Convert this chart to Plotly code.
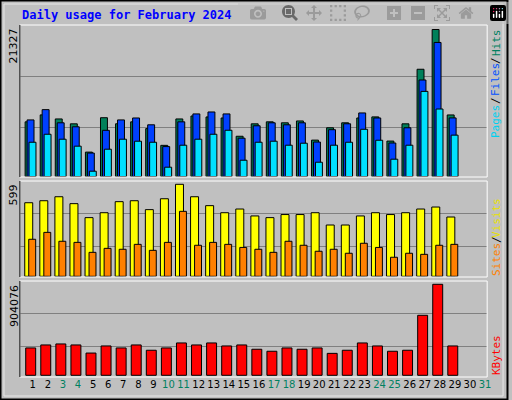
import plotly.graph_objects as go

days = list(range(1, 32))
weekend = [3, 4, 10, 11, 17, 18, 24, 25, 31]

# daily values (February 2024, days 1-29)
hits = [7930, 8940, 8350, 7640, 3540, 8530, 7650, 7930, 6950, 4520, 8350, 8780, 8640, 8490,
        5840, 7640, 7930, 7790, 8060, 5280, 7070, 7790, 8490, 8650, 5140, 7640, 15560, 21327, 8930]
files = [8210, 9700, 7790, 7210, 3400, 6700, 8210, 8490, 7500, 4340, 7930, 9080, 9360, 9080,
         5560, 7360, 7790, 7500, 7790, 5000, 6790, 7650, 9220, 8490, 4860, 7070, 14000, 19450, 8500]
pages = [4970, 6130, 5410, 4400, 770, 3960, 5410, 5120, 4970, 1350, 4540, 5410, 6130, 6710,
         2360, 4970, 5120, 4540, 4830, 2070, 4540, 4970, 6850, 5260, 2510, 4540, 12350, 9790, 6000]
visits = [479, 492, 518, 473, 382, 414, 486, 492, 434, 505, 599, 518, 460, 414,
          438, 393, 382, 402, 402, 414, 334, 334, 393, 414, 402, 414, 438, 451, 386]
sites = [241, 286, 228, 221, 156, 182, 176, 208, 169, 221, 423, 202, 221, 208,
         188, 176, 156, 228, 202, 163, 176, 150, 215, 188, 124, 150, 143, 202, 208]
kbytes = [271720, 301530, 311460, 301530, 221040, 291600, 271720, 301530, 248770, 271720,
          321400, 301530, 321400, 291600, 301530, 258700, 238800, 271720, 258700, 271720,
          218000, 248770, 321400, 291600, 238800, 248770, 596000, 904076, 291600]

n = len(hits)
d = list(range(1, n + 1))
grey = "#c0c0c0"

fig = go.Figure()

def bars(vals, off, w, color, ax):
    fig.add_trace(go.Bar(x=[v + off for v in d], y=vals, width=w, marker_color=color,
                         marker_line_color="black", marker_line_width=1,
                         xaxis="x", yaxis=ax, showlegend=False, hoverinfo="y"))

bars(hits, 0.08, 0.46, "#00805a", "y")
bars(files, 0.21, 0.46, "#0040ff", "y")
bars(pages, 0.34, 0.46, "#00e0ff", "y")
bars(visits, 0.09, 0.53, "#ffff00", "y2")
bars(sites, 0.32, 0.46, "#ff8000", "y2")
bars(kbytes, 0.22, 0.66, "#ff0000", "y3")

def yrange(vmax, base_px, top_px, y0, y1):
    per = vmax / (base_px - top_px)
    return [-(y1 - base_px) * per, (base_px - y0) * per], per

r1, p1 = yrange(21327, 176.5, 29.5, 25, 177)
r2, p2 = yrange(599, 276.3, 184.3, 181, 277)
r3, p3 = yrange(904076, 375.3, 284.3, 281, 377)

ticktext = []
for dd in days:
    c = "#008060" if dd in weekend else "#000000"
    ticktext.append(f"<span style='color:{c}'>{dd}</span>")

fig.update_layout(
    width=512, height=400, margin=dict(l=0, r=0, t=0, b=0),
    paper_bgcolor=grey, plot_bgcolor=grey, barmode="overlay",
    font=dict(family="DejaVu Sans", size=11, color="black"),
    xaxis=dict(domain=[20 / 512, 491 / 512], range=[0.5, 31.5], anchor="y3",
               tickvals=[v + 0.36 for v in days], ticktext=ticktext, tickangle=0,
               tickfont=dict(size=10), showgrid=False, zeroline=False, ticks=""),
    yaxis=dict(domain=[1 - 177 / 400, 1 - 25 / 400], range=r1,
               tickvals=[49.5 * p1, 100.5 * p1], showticklabels=False,
               gridcolor="#808080", zeroline=False),
    yaxis2=dict(domain=[1 - 277 / 400, 1 - 181 / 400], range=r2,
                tickvals=[30 * p2, 63 * p2], showticklabels=False,
                gridcolor="#808080", zeroline=False),
    yaxis3=dict(domain=[1 - 377 / 400, 1 - 281 / 400], range=r3,
                tickvals=[29 * p3, 62 * p3], showticklabels=False,
                gridcolor="#808080", zeroline=False),
)

# panel frames
for y0, y1 in [(25, 177), (181, 277), (281, 377)]:
    fig.add_shape(type="rect", xref="paper", yref="paper", x0=20 / 512, x1=491 / 512,
                  y0=1 - y1 / 400, y1=1 - y0 / 400, line=dict(color="white", width=1))
    fig.add_shape(type="line", xref="paper", yref="paper", x0=20 / 512, x1=20 / 512,
                  y0=1 - y1 / 400, y1=1 - y0 / 400, line=dict(color="black", width=1))

# outer frame
fig.add_shape(type="rect", xref="paper", yref="paper", x0=0.001, x1=0.999, y0=0.001, y1=0.999,
              line=dict(color="black", width=2))
fig.add_shape(type="rect", xref="paper", yref="paper", x0=4 / 512, x1=507 / 512, y0=4 / 400, y1=1 - 4 / 400,
              line=dict(color="#e8e8e8", width=1))

mono = "DejaVu Sans Mono"
fig.add_annotation(text="<b>Daily usage for February 2024</b>", xref="paper", yref="paper",
                   x=20 / 512, y=1 - 15 / 400, xanchor="left", yanchor="middle", showarrow=False,
                   font=dict(family=mono, size=12, color="#0000ff"))

for txt, ytop in [("21327", 26), ("599", 182), ("904076", 283)]:
    fig.add_annotation(text=txt, xref="paper", yref="paper", x=14 / 512, y=1 - ytop / 400,
                       xanchor="center", yanchor="top", textangle=-90, showarrow=False,
                       font=dict(family="DejaVu Sans", size=11, color="black"))

# right-hand legends, one word per annotation (centre y in pixels)
rlabels = [
    ("Hits", "#008060", 43), ("/", "#000000", 61), ("Files", "#0050ff", 80),
    ("/", "#000000", 101), ("Pages", "#00d0f0", 122),
    ("Visits", "#e8e000", 218), ("/", "#000000", 240), ("Sites", "#ff8000", 260),
    ("KBytes", "#ff0000", 355),
]
for txt, col, yc in rlabels:
    fig.add_annotation(text=txt, xref="paper", yref="paper", x=500 / 512, y=1 - yc / 400,
                       xanchor="center", yanchor="middle", textangle=-90, showarrow=False,
                       font=dict(family=mono, size=11, color=col))

fig.write_html("out.html", post_script="document.body.style.margin='0';")
